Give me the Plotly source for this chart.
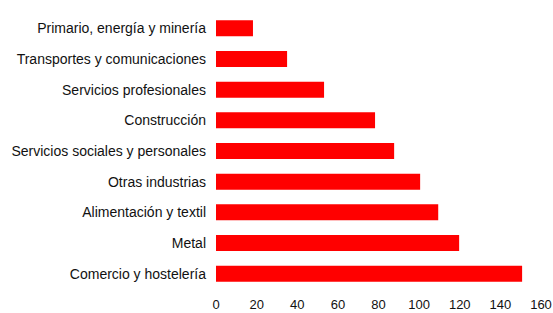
import plotly.graph_objects as go

categories = [
    "Comercio y hostelería",
    "Metal",
    "Alimentación y textil",
    "Otras industrias",
    "Servicios sociales y personales",
    "Construcción",
    "Servicios profesionales",
    "Transportes y comunicaciones",
    "Primario, energía y minería",
]
values = [150.7, 119.7, 109.4, 100.5, 87.7, 78.3, 53.2, 35.0, 18.2]
x_ticks = [0, 20, 40, 60, 80, 100, 120, 140, 160]

fig = go.Figure(go.Bar(
    x=values, y=categories, orientation="h",
    marker=dict(color="#ff0000", line=dict(width=0)),
))
fig.update_layout(
    width=553, height=313,
    margin=dict(l=216, r=12, t=12.6, b=23.6, autoexpand=False),
    paper_bgcolor="white", plot_bgcolor="white",
    bargap=0.48,
    showlegend=False,
    font=dict(family="Liberation Sans, Arial, sans-serif", size=14, color="#111111"),
)
fig.update_xaxes(range=[0, 160], tickvals=x_ticks, showgrid=False, zeroline=False,
                 showline=False, ticks="", ticklabelstandoff=6, automargin=False,
                 ticklabeloverflow="allow", tickfont=dict(size=13),
                 fixedrange=True)
fig.update_yaxes(showgrid=False, zeroline=False, showline=False, ticks="",
                 ticklabelstandoff=9, automargin=False, fixedrange=True,
                 categoryorder="array", categoryarray=categories)
fig.write_html(
    "out.html",
    config={"displayModeBar": False, "staticPlot": True},
    post_script="document.body.style.margin='0';document.body.style.overflow='hidden';",
)
